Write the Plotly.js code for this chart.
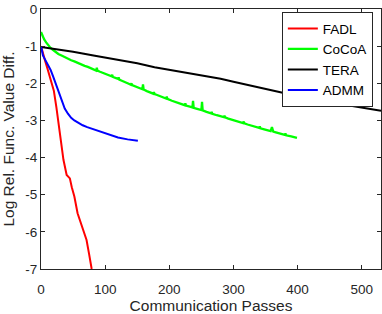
<!DOCTYPE html>
<html>
<head>
<meta charset="utf-8">
<script src="https://cdn.plot.ly/plotly-3.0.1.min.js"></script>
<style>html,body{margin:0;padding:0;background:#fff;}#chart{width:382px;height:314px;}</style>
</head>
<body>
<div id="chart"></div>
<script>
const seriesNames = ["FADL", "CoCoA", "TERA", "ADMM"];
const seriesColors = ["#ff0000", "#00ff00", "#000000", "#0000ff"];

const fadlX = [0, 2, 6, 10, 14, 17, 20, 24, 28, 31, 33, 35, 40, 45, 48, 52, 57, 62, 66, 71, 75, 79];
const fadlY = [-1.0, -1.15, -1.37, -1.6, -1.82, -2.0, -2.2, -2.65, -3.16, -3.6, -3.9, -4.06, -4.47, -4.56, -4.8, -5.05, -5.5, -5.75, -5.95, -6.22, -6.6, -7.0];

const cocoaX = [0, 1, 3, 5, 8, 10, 14, 18, 22, 27, 32, 37, 42, 47, 52, 58, 63, 68, 73, 78, 82, 86, 87, 88, 92, 97, 102, 107, 110, 111, 112, 117, 120, 121, 122, 126, 130, 135, 140, 141, 142, 145, 150, 155, 158, 159, 160, 165, 169, 175, 176, 177, 180, 186, 192, 195, 196, 197, 204, 210, 216, 222, 224, 225, 226, 232, 236, 237, 238, 242, 246, 250, 251, 252, 258, 262, 265, 266, 267, 274, 280, 285, 286, 287, 292, 298, 304, 310, 315, 316, 317, 322, 326, 331, 336, 340, 341, 342, 348, 354, 358, 360, 362, 366, 372, 378, 380, 381, 382, 390, 395, 399];
const cocoaY = [-0.62, -0.67, -0.75, -0.82, -0.90, -0.95, -1.03, -1.09, -1.15, -1.21, -1.25, -1.30, -1.33, -1.38, -1.41, -1.46, -1.49, -1.53, -1.56, -1.60, -1.62, -1.66, -1.58, -1.66, -1.69, -1.72, -1.76, -1.79, -1.81, -1.77, -1.83, -1.86, -1.88, -1.84, -1.90, -1.93, -1.97, -2.00, -2.04, -2.00, -2.05, -2.07, -2.11, -2.14, -2.16, -2.03, -2.17, -2.21, -2.24, -2.28, -2.24, -2.29, -2.31, -2.35, -2.39, -2.41, -2.36, -2.42, -2.47, -2.51, -2.55, -2.58, -2.59, -2.54, -2.60, -2.63, -2.65, -2.47, -2.66, -2.68, -2.70, -2.72, -2.50, -2.73, -2.77, -2.80, -2.81, -2.77, -2.82, -2.86, -2.89, -2.91, -2.87, -2.92, -2.95, -2.98, -3.01, -3.05, -3.07, -3.03, -3.08, -3.11, -3.13, -3.16, -3.18, -3.20, -3.16, -3.21, -3.24, -3.27, -3.29, -3.18, -3.30, -3.32, -3.35, -3.38, -3.39, -3.35, -3.40, -3.43, -3.45, -3.47];

const teraX = [0, 20, 50, 84, 120, 150, 177, 200, 225, 250, 280, 300, 320, 340, 360, 400, 422, 450, 480, 500, 530];
const teraY = [-1.02, -1.07, -1.15, -1.26, -1.37, -1.46, -1.57, -1.64, -1.71, -1.79, -1.88, -1.96, -2.04, -2.12, -2.19, -2.34, -2.43, -2.51, -2.59, -2.65, -2.74];

const admmX = [0, 1, 3, 6, 10, 15, 19, 24, 29, 33, 37, 42, 47, 52, 58, 65, 72, 84, 95, 108, 120, 135, 151];
const admmY = [-1.0, -1.12, -1.25, -1.35, -1.48, -1.64, -1.82, -2.05, -2.28, -2.5, -2.68, -2.82, -2.93, -3.0, -3.07, -3.13, -3.18, -3.25, -3.32, -3.4, -3.46, -3.51, -3.55];

const xTicks = [0, 100, 200, 300, 400, 500];
const yTicks = [0, -1, -2, -3, -4, -5, -6, -7];

const xs = [fadlX, cocoaX, teraX, admmX];
const ys = [fadlY, cocoaY, teraY, admmY];
const widths = [2, 2.3, 2, 2];
const data = seriesNames.map((n, i) => ({
  x: xs[i], y: ys[i], name: n, type: "scatter", mode: "lines",
  line: {color: seriesColors[i], width: widths[i]}
}));

const axisCommon = {
  showgrid: false, zeroline: false, showline: true, linecolor: "#262626", linewidth: 1,
  mirror: "ticks", ticks: "inside", ticklen: 4, tickcolor: "#262626", tickwidth: 1,
  tickfont: {family: "Liberation Sans, Arial, sans-serif", size: 13.5, color: "#262626"}
};

const layout = {
  width: 382, height: 314,
  margin: {l: 41, r: 1, t: 9, b: 45},
  paper_bgcolor: "#fff", plot_bgcolor: "#fff",
  showlegend: true,
  legend: {x: 0.976, xanchor: "right", y: 0.988, yanchor: "top",
    bordercolor: "#262626", borderwidth: 1, bgcolor: "#fff",
    font: {family: "Liberation Sans, Arial, sans-serif", size: 13.5, color: "#000"},
    tracegroupgap: 0, itemwidth: 30},
  xaxis: Object.assign({}, axisCommon, {
    range: [0, 530], tickvals: xTicks, ticktext: xTicks.map(String), ticklabelstandoff: 8,
    title: {text: "Communication Passes", standoff: 6,
      font: {family: "Liberation Sans, Arial, sans-serif", size: 15.5, color: "#262626"}}
  }),
  yaxis: Object.assign({}, axisCommon, {
    range: [-7, 0], tickvals: yTicks, ticktext: yTicks.map(String),
    title: {text: "Log Rel. Func. Value Diff.", standoff: 8,
      font: {family: "Liberation Sans, Arial, sans-serif", size: 15.5, color: "#262626"}}
  })
};

Plotly.newPlot("chart", data, layout, {displayModeBar: false, staticPlot: true});
</script>
</body>
</html>
